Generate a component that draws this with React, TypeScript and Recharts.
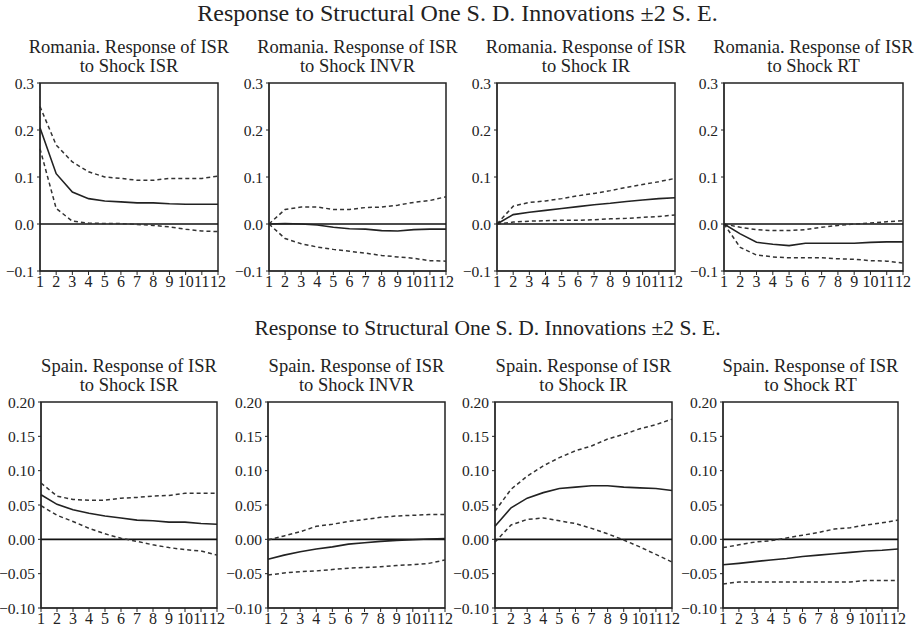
import React from "react";
import {
  LineChart,
  Line,
  XAxis,
  YAxis,
  ReferenceLine,
  ReferenceArea,
} from "recharts";

const FONT = '"Liberation Serif", "DejaVu Serif", serif';

const periods = [1, 2, 3, 4, 5, 6, 7, 8, 9, 10, 11, 12];
const roTicks = [-0.1, 0, 0.1, 0.2, 0.3];
const esTicks = [-0.1, -0.05, 0, 0.05, 0.1, 0.15, 0.2];
const mainTitle = "Response to Structural One S. D. Innovations ±2 S. E.";

// Romania
const roIsrMid = [0.205, 0.107, 0.068, 0.054, 0.049, 0.047, 0.045, 0.045, 0.043, 0.042, 0.042, 0.042];
const roIsrUp = [0.25, 0.168, 0.132, 0.111, 0.1, 0.097, 0.093, 0.093, 0.097, 0.097, 0.097, 0.102];
const roIsrLo = [0.16, 0.033, 0.006, 0.002, 0.001, 0.001, -0.001, -0.003, -0.006, -0.011, -0.015, -0.016];

const roInvrMid = [0, 0.001, 0, -0.002, -0.007, -0.01, -0.011, -0.014, -0.015, -0.012, -0.011, -0.011];
const roInvrUp = [0, 0.031, 0.036, 0.036, 0.031, 0.031, 0.035, 0.036, 0.04, 0.046, 0.05, 0.058];
const roInvrLo = [0, -0.031, -0.042, -0.049, -0.054, -0.058, -0.062, -0.067, -0.07, -0.073, -0.078, -0.079];

const roIrMid = [0, 0.02, 0.025, 0.029, 0.033, 0.037, 0.041, 0.044, 0.048, 0.051, 0.054, 0.056];
const roIrUp = [0, 0.038, 0.046, 0.049, 0.054, 0.06, 0.065, 0.071, 0.078, 0.084, 0.09, 0.097];
const roIrLo = [0, 0.004, 0.006, 0.007, 0.008, 0.008, 0.009, 0.011, 0.012, 0.014, 0.016, 0.019];

const roRtMid = [0, -0.021, -0.039, -0.043, -0.046, -0.041, -0.041, -0.041, -0.041, -0.039, -0.038, -0.038];
const roRtUp = [0, -0.007, -0.012, -0.014, -0.014, -0.012, -0.007, -0.003, 0, 0.002, 0.005, 0.007];
const roRtLo = [0, -0.05, -0.066, -0.07, -0.072, -0.072, -0.072, -0.074, -0.075, -0.078, -0.079, -0.083];

// Spain
const esIsrMid = [0.065, 0.051, 0.043, 0.038, 0.034, 0.031, 0.028, 0.027, 0.025, 0.025, 0.023, 0.022];
const esIsrUp = [0.082, 0.063, 0.058, 0.057, 0.057, 0.06, 0.061, 0.063, 0.064, 0.067, 0.067, 0.067];
const esIsrLo = [0.049, 0.035, 0.026, 0.016, 0.008, 0.0015, -0.003, -0.008, -0.012, -0.015, -0.017, -0.023];

const esInvrMid = [-0.029, -0.023, -0.018, -0.014, -0.011, -0.007, -0.005, -0.003, -0.0015, -0.0005, 0.0005, 0.001];
const esInvrUp = [-0.001, 0.005, 0.011, 0.019, 0.022, 0.026, 0.029, 0.032, 0.034, 0.035, 0.036, 0.036];
const esInvrLo = [-0.052, -0.049, -0.047, -0.046, -0.044, -0.042, -0.041, -0.04, -0.038, -0.037, -0.035, -0.03];

const esIrMid = [0.019, 0.046, 0.06, 0.068, 0.074, 0.076, 0.078, 0.078, 0.076, 0.075, 0.074, 0.071];
const esIrUp = [0.041, 0.073, 0.092, 0.107, 0.119, 0.129, 0.136, 0.146, 0.153, 0.161, 0.167, 0.175];
const esIrLo = [-0.004, 0.021, 0.029, 0.031, 0.027, 0.023, 0.016, 0.008, -0.001, -0.011, -0.022, -0.033];

const esRtMid = [-0.037, -0.035, -0.0325, -0.03, -0.028, -0.025, -0.023, -0.021, -0.019, -0.017, -0.016, -0.014];
const esRtUp = [-0.012, -0.008, -0.004, -0.002, 0.002, 0.006, 0.01, 0.015, 0.017, 0.021, 0.024, 0.028];
const esRtLo = [-0.065, -0.062, -0.062, -0.062, -0.062, -0.062, -0.062, -0.062, -0.062, -0.06, -0.06, -0.06];

const minus = (s: string) => s.replace("-", "\u2212");

type PanelProps = {
  country: string;
  shock: string;
  mid: number[];
  up: number[];
  lo: number[];
  ticks: number[];
  digits: number;
  left: number;
  top: number;
  plotW: number;
  plotH: number;
};

const YW = 50;
const MT = 8;
const MR = 14;
const XH = 24;

function Panel({ country, shock, mid, up, lo, ticks, digits, left, top, plotW, plotH }: PanelProps) {
  const data = periods.map((p, i) => ({ x: p, mid: mid[i], up: up[i], lo: lo[i] }));
  const yMin = ticks[0];
  const yMax = ticks[ticks.length - 1];
  return (
    <>
      <div
        style={{
          position: "absolute",
          left: left - 30,
          top: top - 45,
          width: plotW + 60,
          textAlign: "center",
          fontSize: 18.5,
          lineHeight: "19px",
          color: "#222",
        }}
      >
        {country}. Response of ISR
        <br />
        to Shock {shock}
      </div>
      <div style={{ position: "absolute", left: left - YW, top: top - MT }}>
        <LineChart
          width={YW + plotW + MR}
          height={MT + plotH + XH}
          data={data}
          margin={{ top: MT, right: MR, bottom: 0, left: 0 }}
        >
          <XAxis
            dataKey="x"
            type="number"
            domain={[1, 12]}
            ticks={periods}
            interval={0}
            height={XH}
            tickSize={4}
            tickMargin={1}
            stroke="#222"
            tick={{ fontSize: 16, fill: "#222" }}
          />
          <YAxis
            type="number"
            domain={[yMin, yMax]}
            ticks={ticks}
            interval={0}
            allowDataOverflow
            width={YW}
            tickSize={3}
            tickMargin={3}
            stroke="#222"
            tickFormatter={(v: number) => minus(v.toFixed(digits))}
            tick={{ fontSize: 15.5, fill: "#222" }}
          />
          <ReferenceArea
            x1={1}
            x2={12}
            y1={yMin}
            y2={yMax}
            fill="none"
            stroke="#222"
            strokeWidth={1.5}
          />
          <ReferenceLine y={0} stroke="#111" strokeWidth={1.6} />
          <Line dataKey="up" stroke="#333" strokeWidth={1.5} strokeDasharray="4 3" dot={false} isAnimationActive={false} />
          <Line dataKey="lo" stroke="#333" strokeWidth={1.5} strokeDasharray="4 3" dot={false} isAnimationActive={false} />
          <Line dataKey="mid" stroke="#222" strokeWidth={1.6} dot={false} isAnimationActive={false} />
        </LineChart>
      </div>
    </>
  );
}

export default function App() {
  const topY = 83;
  const topH = 188;
  const botY = 402;
  const botH = 206;
  return (
    <div
      style={{
        position: "absolute",
        left: 0,
        top: 0,
        width: 915,
        height: 634,
        background: "#fff",
        fontFamily: FONT,
        color: "#222",
      }}
    >
      <style>{`.recharts-text, .recharts-cartesian-axis-tick-value { font-family: ${FONT}; }`}</style>
      <div style={{ position: "absolute", left: 0, top: 0, width: 915, textAlign: "center", fontSize: 24, whiteSpace: "nowrap" }}>
        {mainTitle}
      </div>
      <div style={{ position: "absolute", left: 30, top: 316, width: 915, textAlign: "center", fontSize: 21.5, whiteSpace: "nowrap" }}>
        {mainTitle}
      </div>

      <Panel country="Romania" shock="ISR" mid={roIsrMid} up={roIsrUp} lo={roIsrLo} ticks={roTicks} digits={1} left={40} top={topY} plotW={178} plotH={topH} />
      <Panel country="Romania" shock="INVR" mid={roInvrMid} up={roInvrUp} lo={roInvrLo} ticks={roTicks} digits={1} left={269} top={topY} plotW={177} plotH={topH} />
      <Panel country="Romania" shock="IR" mid={roIrMid} up={roIrUp} lo={roIrLo} ticks={roTicks} digits={1} left={497} top={topY} plotW={178} plotH={topH} />
      <Panel country="Romania" shock="RT" mid={roRtMid} up={roRtUp} lo={roRtLo} ticks={roTicks} digits={1} left={724} top={topY} plotW={179} plotH={topH} />

      <Panel country="Spain" shock="ISR" mid={esIsrMid} up={esIsrUp} lo={esIsrLo} ticks={esTicks} digits={2} left={41} top={botY} plotW={176} plotH={botH} />
      <Panel country="Spain" shock="INVR" mid={esInvrMid} up={esInvrUp} lo={esInvrLo} ticks={esTicks} digits={2} left={268} top={botY} plotW={177} plotH={botH} />
      <Panel country="Spain" shock="IR" mid={esIrMid} up={esIrUp} lo={esIrLo} ticks={esTicks} digits={2} left={495} top={botY} plotW={177} plotH={botH} />
      <Panel country="Spain" shock="RT" mid={esRtMid} up={esRtUp} lo={esRtLo} ticks={esTicks} digits={2} left={723} top={botY} plotW={175} plotH={botH} />
    </div>
  );
}
